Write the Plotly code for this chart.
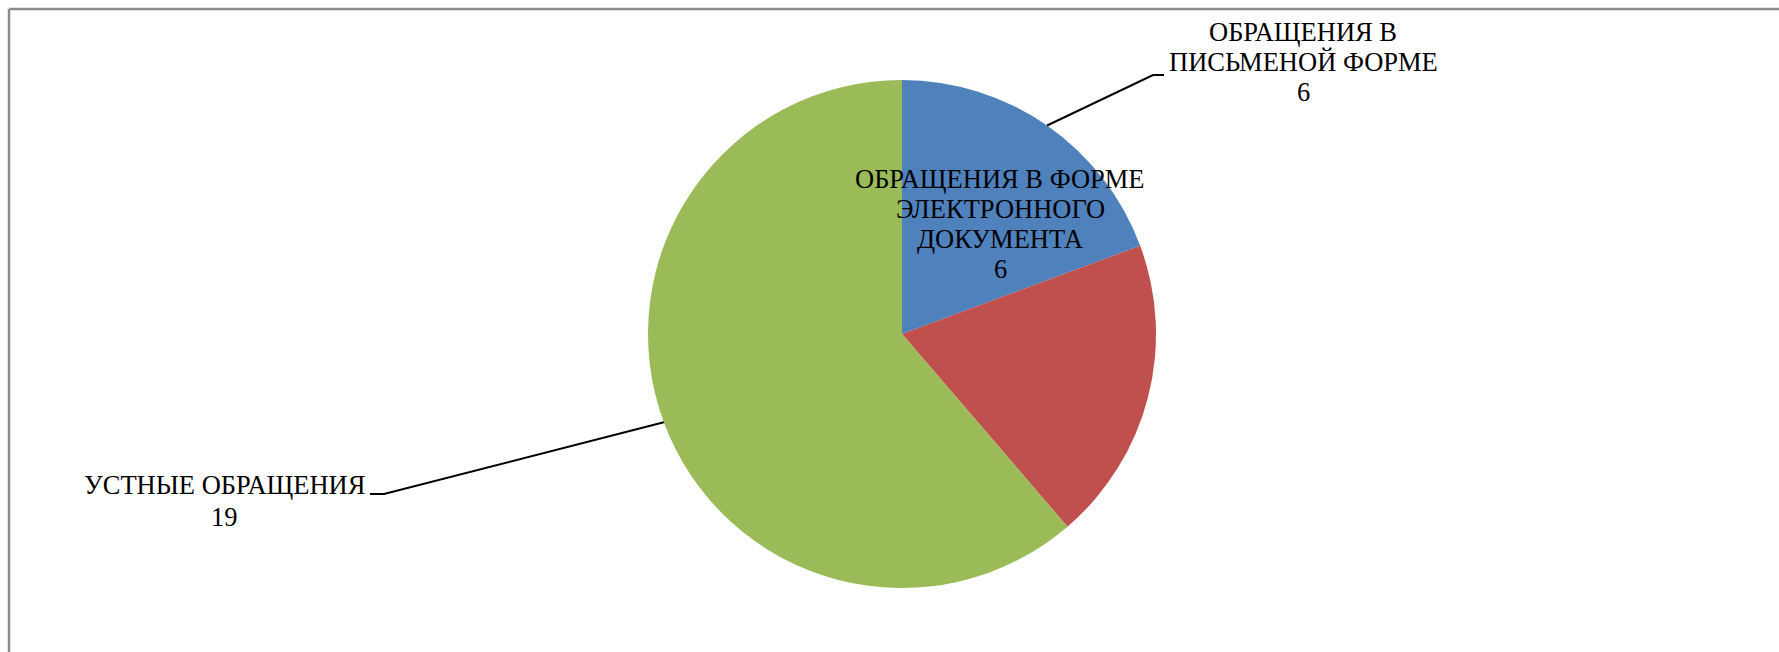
import math
import plotly.graph_objects as go

categories = ["ОБРАЩЕНИЯ В ПИСЬМЕНОЙ ФОРМЕ",
              "ОБРАЩЕНИЯ В ФОРМЕ ЭЛЕКТРОННОГО ДОКУМЕНТА",
              "УСТНЫЕ ОБРАЩЕНИЯ"]
values = [6, 6, 19]
label_lines = [["ОБРАЩЕНИЯ В", "ПИСЬМЕНОЙ ФОРМЕ"],
               ["ОБРАЩЕНИЯ В ФОРМЕ", "ЭЛЕКТРОННОГО", "ДОКУМЕНТА"],
               ["УСТНЫЕ ОБРАЩЕНИЯ"]]
colors = ["#4F81BD", "#C0504D", "#9BBB59"]

W, H = 1779, 652
ML, MR, MT, MB = 25, 0, 80, 64
PW, PH = W - ML - MR, H - MT - MB


def px(X):
    return (X - ML) / PW


def py(Y):
    return 1 - (Y - MT) / PH


# pie geometry (pixels)
cx, cy = ML + PW / 2, MT + PH / 2
R = min(PW, PH) / 2

fig = go.Figure(go.Pie(
    labels=categories, values=values, sort=False, direction="clockwise",
    rotation=0, marker=dict(colors=colors, line=dict(width=0)),
    textinfo="none", hoverinfo="label+value", showlegend=False,
    domain=dict(x=[0, 1], y=[0, 1]),
))

# mid angles (degrees from 12 o'clock, clockwise)
total = sum(values)
mids = []
acc = 0
for v in values:
    mids.append((acc + v / 2) / total * 360)
    acc += v


def edge(i):
    a = math.radians(mids[i])
    return cx + R * math.sin(a), cy - R * math.cos(a)


font = dict(family="Liberation Serif", size=26.5, color="black")
# label block placement: (center x, first line y, line step) in pixels
placement = [(1303, 32, 30), (1000, 179, 30), (224, 485, 31.5)]
annotations = []
for i, (X, Y0, step) in enumerate(placement):
    lines = label_lines[i] + [str(values[i])]
    for k, t in enumerate(lines):
        annotations.append(dict(
            x=px(X), y=py(Y0 + k * step), text=t, xref="paper", yref="paper",
            showarrow=False, font=font, xanchor="center", yanchor="middle"))

shapes = []
# leader lines
leaders = [(0, [(1153, 75), (1164, 75)]), (2, [(384, 494), (370, 494)])]
for i, pts in leaders:
    sx, sy = edge(i)
    path = "M %f,%f" % (px(sx), py(sy))
    for (X, Y) in pts:
        path += " L %f,%f" % (px(X), py(Y))
    shapes.append(dict(type="path", path=path, xref="paper", yref="paper",
                       line=dict(color="black", width=2)))

# chart area border (left and top visible)
bl, bt = px(9), py(9)
shapes.append(dict(type="line", xref="paper", yref="paper", x0=bl, x1=bl, y0=py(H + 5), y1=bt,
                   line=dict(color="#8a8a8a", width=2.5)))
shapes.append(dict(type="line", xref="paper", yref="paper", x0=bl, x1=px(W + 5), y0=bt, y1=bt,
                   line=dict(color="#8a8a8a", width=2.5)))

fig.update_layout(
    width=W, height=H, margin=dict(l=ML, r=MR, t=MT, b=MB),
    paper_bgcolor="white", plot_bgcolor="white",
    annotations=annotations, shapes=shapes,
)

fig.write_html("out.html", config={"displayModeBar": False},
               post_script="document.body.style.margin='0px';document.body.style.overflow='hidden';")
